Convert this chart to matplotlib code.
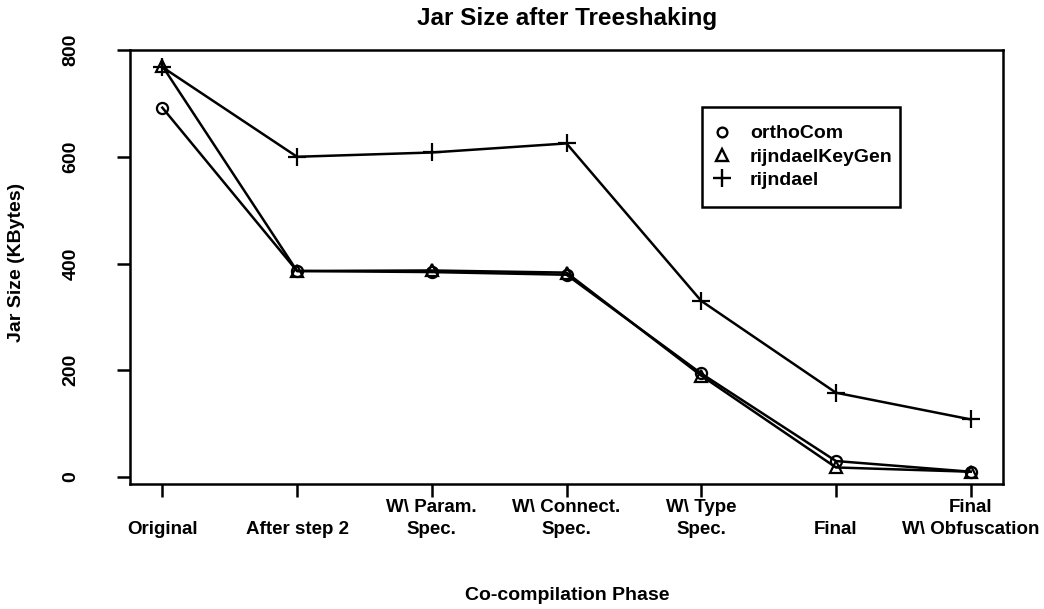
import matplotlib
matplotlib.use("Agg")
import matplotlib.pyplot as plt
from matplotlib.lines import Line2D
from matplotlib.patches import Rectangle

plt.rcParams['font.family'] = ['Liberation Sans', 'DejaVu Sans']

phases = ["\nOriginal", "\nAfter step 2", "W\\ Param.\nSpec.", "W\\ Connect.\nSpec.",
          "W\\ Type\nSpec.", "\nFinal", "Final\nW\\ Obfuscation"]
orthoCom = [692, 386, 384, 379, 194, 30, 10]
rijndaelKeyGen = [770, 386, 387, 383, 190, 18, 10]
rijndael = [768, 600, 608, 625, 330, 158, 108]
yticks = [0, 200, 400, 600, 800]

W, H = 1044, 609
fig = plt.figure(figsize=(W / 100, H / 100), dpi=100)
ax = fig.add_axes([130 / W, 1 - 484 / H, 873 / W, 434 / H])

x = list(range(1, len(phases) + 1))
common = dict(color='black', linewidth=1.8, markerfacecolor='none',
              markeredgecolor='black', markeredgewidth=1.6, clip_on=False)
ax.plot(x, orthoCom, marker='o', markersize=8, **common)
ax.plot(x, rijndaelKeyGen, marker='^', markersize=9, **common)
ax.plot(x, rijndael, marker='+', markersize=13, **common)

FS = 14
ax.set_xlim(0.76, 7.24)
ax.set_ylim(-13, 800)
ax.set_xticks(x)
ax.set_xticklabels(phases, fontsize=13.5, fontweight='bold', linespacing=1.4)
ax.set_yticks(yticks)
ax.set_yticklabels([str(v) for v in yticks], fontsize=FS, fontweight='bold',
                   rotation=90, va='center')
ax.tick_params(axis='x', length=9.5, width=1.8, pad=1.5)
ax.tick_params(axis='y', length=9.5, width=1.8, pad=27)
for s in ax.spines.values():
    s.set_linewidth(1.8)

fig.text(567 / W, 1 - 19 / H, "Jar Size after Treeshaking", fontsize=17.5,
         fontweight='bold', ha='center', va='center')
fig.text(567 / W, 1 - 596 / H, "Co-compilation Phase", fontsize=FS,
         fontweight='bold', ha='center', va='center')
fig.text(17 / W, 1 - 262 / H, "Jar Size (KBytes)", fontsize=FS,
         fontweight='bold', ha='center', va='center', rotation=90)

handles = [Line2D([], [], linestyle='none', marker='o', markersize=7,
                  markerfacecolor='none', markeredgecolor='black', markeredgewidth=1.7),
           Line2D([], [], linestyle='none', marker='^', markersize=8,
                  markerfacecolor='none', markeredgecolor='black', markeredgewidth=1.7),
           Line2D([], [], linestyle='none', marker='+', markersize=13,
                  markeredgecolor='black', markeredgewidth=1.7)]
fs_px = FS * 100 / 72
leg = ax.legend(handles, ["orthoCom", "rijndaelKeyGen", "rijndael"],
                loc='center left',
                bbox_to_anchor=((722 - fs_px / 2) / W, 1 - 157 / H),
                bbox_transform=fig.transFigure,
                prop={'weight': 'bold', 'size': FS}, frameon=False,
                handlelength=1.0, handletextpad=(750 - 722 - fs_px / 2) / fs_px,
                labelspacing=0.3, borderpad=0, borderaxespad=0)
fig.patches.append(Rectangle((702 / W, 1 - 207 / H), 198 / W, 100 / H,
                             transform=fig.transFigure, fill=False,
                             edgecolor='black', linewidth=1.8))

fig.savefig("out.png", dpi=100)
